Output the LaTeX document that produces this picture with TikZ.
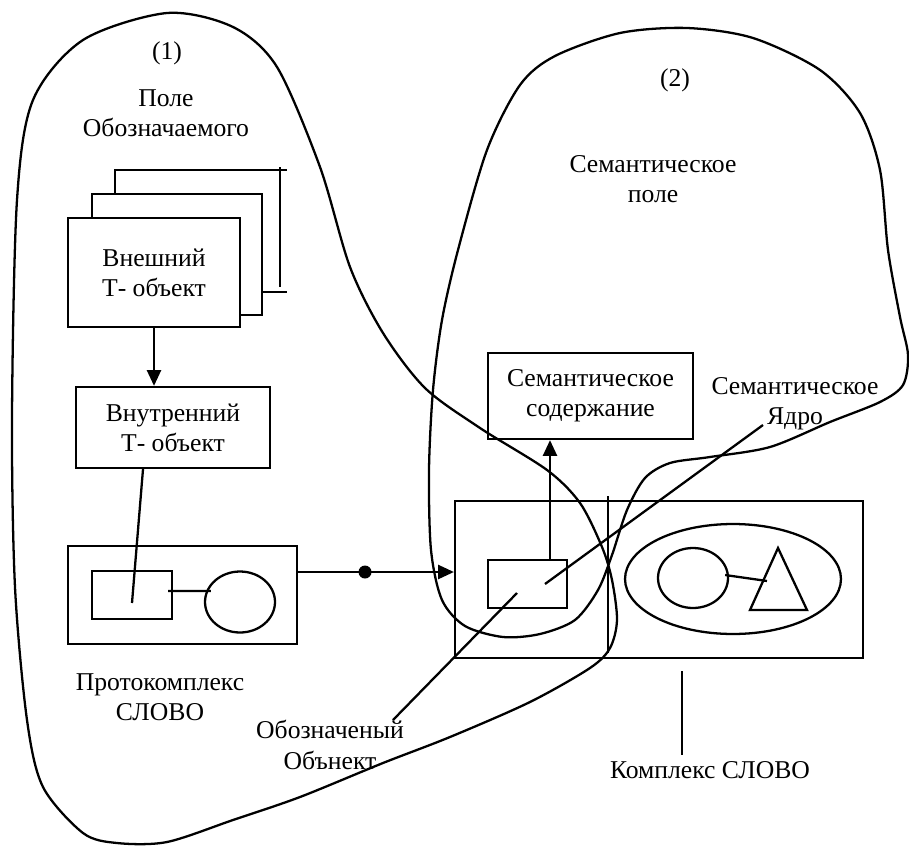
\documentclass[tikz,border=0pt]{standalone}
\usepackage{fontspec}
\setmainfont{Liberation Serif}
\usetikzlibrary{arrows.meta}
\usetikzlibrary{shapes.geometric}

\begin{document}
\begin{tikzpicture}[x=0.02cm, y=-0.02cm, line width=1.3pt,
    font=\fontsize{14.6}{17.2}\selectfont,
    box/.style={draw, rectangle, inner sep=0pt, align=center},
    oval/.style={draw, ellipse, inner sep=0pt},
    lbl/.style={align=center, inner sep=0pt},
    arr/.style={-{Triangle[length=9pt, width=8pt]}}]

        \useasboundingbox (0,0) rectangle (909,845);

        % field (1)
        \draw plot[smooth cycle] coordinates {(167,13) (233,27) (277,67) (320,167) (350,267)
            (383,333) (425,388) (480,428) (547,470) (580,503) (602,547) (612,580) (617,620)
            (610,648) (590,668) (530,702) (450,737) (383,763) (300,797) (233,820) (167,842)
            (117,843) (83,833) (43,787) (27,720) (15,587) (12,417) (17,200) (33,100) (83,40)};
        % field (2)
        \draw plot[smooth cycle] coordinates {(687,28) (753,38) (820,70) (860,113) (880,170)
            (888,250) (900,317) (908,355) (903,385) (880,402) (830,422) (770,447) (710,457)
            (670,463) (645,478) (627,510) (612,555) (598,590) (575,620) (540,634) (503,637)
            (465,626) (442,600) (431,550) (429,470) (433,390) (442,320) (458,250) (487,150)
            (520,85) (555,56) (620,33)};

        \node[lbl] (num1) at (167,53) {(1)};
        \node[lbl] (pole1) at (166,113) {Поле\\Обозначаемого};
        \node[lbl] (num2) at (675,80) {(2)};
        \node[lbl] (pole2) at (653,179) {Семантическое\\поле};

        % stack of outer objects
        \draw (115,194) -- (115,170) -- (287,170);
        \draw (280,167) -- (280,287);
        \draw (262,292) -- (287,292);
        \draw[fill=white] (92,194) rectangle (262,315);
        \node[box, fill=white, minimum width=3.44cm, minimum height=2.18cm] (ext) at (154,272.5) {Внешний\\Т- объект};

        \node[box, minimum width=3.88cm, minimum height=1.62cm] (inn) at (173,427.5) {Внутренний\\Т- объект};
        \draw[arr] (ext.south) -- (ext.south |- inn.north);

        % protocomplex
        \node[box, minimum width=4.58cm, minimum height=1.96cm] (proto) at (182.5,595) {};
        \node[box, minimum width=1.6cm, minimum height=0.96cm] (psq) at (132,595) {};
        \node[oval, minimum width=1.4cm, minimum height=1.22cm] (pcirc) at (240,602) {};
        \draw ([shift={(-0.1cm,0.08cm)}]psq.east) -- ([shift={(0.14cm,0.22cm)}]pcirc.west);
        \draw ([xshift=-0.6cm]inn.south) -- ([yshift=-0.16cm]psq.center);
        \node[lbl] (protolbl) at (160,697) {Протокомплекс\\СЛОВО};

        % complex
        \node[box, minimum width=8.16cm, minimum height=3.14cm] (cplx) at (659,579.5) {};
        \draw (608,496) -- (608,653);
        \node[box, minimum width=1.58cm, minimum height=0.96cm] (csq) at (527.5,584) {};
        \node[oval, minimum width=4.32cm, minimum height=2.2cm] (core) at (733,579) {};
        \node[oval, minimum width=1.4cm, minimum height=1.2cm] (ccirc) at (693,578) {};
        \coordinate (tri) at (778,548);
        \draw (tri) -- (750,610) -- (807,610) -- cycle;
        \draw ([shift={(-0.08cm,0.06cm)}]ccirc.east) -- (767,581);

        \node[box, minimum width=4.1cm, minimum height=1.72cm] (semc) at (590.5,396) {Семантическое\\содержание};
        \draw[arr] ([xshift=0.45cm]csq.north) -- ([xshift=0.45cm]csq.north |- semc.south);

        \draw[arr] ([yshift=0.46cm]proto.east) -- ([yshift=0.46cm]proto.east -| cplx.west);
        \fill (365,572) circle (0.13cm);

        % labels
        \node[lbl] (corelbl) at (795,404) {Семантическое\\Ядро};
        \coordinate (coreend) at (763,425);
        \draw (coreend) -- (545,584);
        \node[lbl] (objlbl) at (330,745) {Обозначеный\\Обънект};
        \coordinate (objend) at (393,720);
        \draw (objend) -- (517,593);
        \node[lbl] (cplxlbl) at (710,770) {Комплекс СЛОВО};
        \draw (682,671) -- (682,755);

\end{tikzpicture}
\end{document}
